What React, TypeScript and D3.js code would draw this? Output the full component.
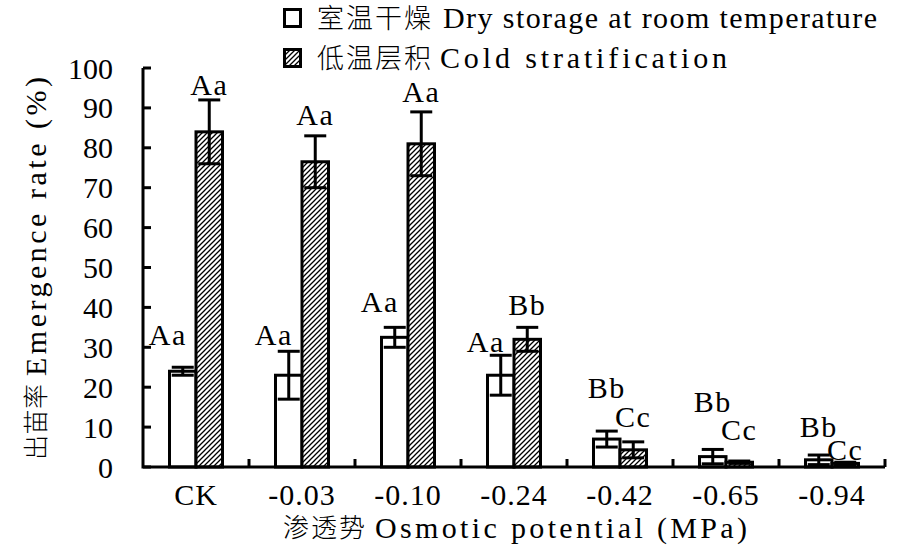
import React from "react";
import * as d3 from "d3";

const categories = ["CK", "-0.03", "-0.10", "-0.24", "-0.42", "-0.65", "-0.94"];
const dryValues = [24, 23, 32.5, 23, 7, 2.6, 1.8];
const dryErrors = [1, 6, 2.5, 5, 2, 1.8, 1.2];
const coldValues = [84, 76.5, 81, 32, 4.3, 1.2, 0.9];
const coldErrors = [8, 6.5, 8, 3, 2, 0.3, 0.3];
const dryLetters = ["Aa", "Aa", "Aa", "Aa", "Bb", "Bb", "Bb"];
const coldLetters = ["Aa", "Aa", "Aa", "Bb", "Cc", "Cc", "Cc"];
// label anchor heights (data units, baseline of the significance letters)
const dryLabelAt = [30.5, 30.5, 38.8, 28.8, 17.3, 13.8, 7.5];
const coldLabelAt = [93.3, 85.8, 91.5, 38, 10, 6.8, 1.8];
const yTicks = [0, 10, 20, 30, 40, 50, 60, 70, 80, 90, 100];
const seriesKeys = ["dry", "cold"];

const FONT = "'Liberation Serif', 'Times New Roman', Times, Tinos, 'Noto Serif', 'DejaVu Serif', serif";
const CJK = "'Noto Sans CJK SC', 'Noto Sans CJK JP', sans-serif";

export default function App() {
  const W = 900, H = 550;
  const left = 143, right = 885, top = 68, bottom = 467;
  const x = d3.scaleBand<string>().domain(categories).range([left, right]).padding(0);
  const bw = x.bandwidth();
  const xi = d3.scaleBand<string>().domain(seriesKeys).range([bw * 0.25, bw * 0.75]).padding(0);
  const y = d3.scaleLinear().domain([0, 100]).range([bottom, top]);
  const barW = xi.bandwidth();
  const cap = 22;
  const sw = 3;

  const bars: any[] = [];
  categories.forEach((c, i) => {
    [
      { k: "dry", v: dryValues[i], e: dryErrors[i], lab: dryLetters[i], la: dryLabelAt[i] },
      { k: "cold", v: coldValues[i], e: coldErrors[i], lab: coldLetters[i], la: coldLabelAt[i] },
    ].forEach((s) => {
      const bx = (x(c) as number) + (xi(s.k) as number);
      bars.push({ ...s, c, i, bx });
    });
  });

  const T = { fontFamily: FONT } as React.CSSProperties;
  const C = { fontFamily: CJK, fontWeight: 300 } as React.CSSProperties;

  return (
    <svg width={W} height={H} style={{ position: "absolute", left: 0, top: 0, background: "#fff" }}>
      <defs>
        <pattern id="hatch" patternUnits="userSpaceOnUse" width="5" height="5">
          <rect width="5" height="5" fill="#fff" />
          <path d="M-1,1 L1,-1 M0,5 L5,0 M4,6 L6,4" stroke="#000" strokeWidth="1.3" />
        </pattern>
      </defs>

      {bars.map((b, j) => {
        const yt = y(b.v);
        return (
          <rect key={"b" + j} x={b.bx} y={yt} width={barW} height={bottom - yt}
            fill={b.k === "dry" ? "#fff" : "url(#hatch)"} stroke="#000" strokeWidth={sw} />
        );
      })}
      {bars.map((b, j) => {
        const cx = b.bx + barW / 2;
        const y1 = y(b.v + b.e), y2 = y(Math.max(0, b.v - b.e));
        return (
          <g key={"e" + j} stroke="#000" strokeWidth={sw}>
            <line x1={cx} x2={cx} y1={y1} y2={y2} />
            <line x1={cx - cap / 2} x2={cx + cap / 2} y1={y1} y2={y1} />
            <line x1={cx - cap / 2} x2={cx + cap / 2} y1={y2} y2={y2} />
          </g>
        );
      })}
      {bars.map((b, j) => {
        const cx = b.bx + barW / 2;
        const shift = b.k === "dry" && coldValues[b.i] > b.la ? -15 : 0;
        return (
          <text key={"l" + j} style={T} x={cx + shift} y={y(b.la)} textAnchor="middle" fontSize={30} letterSpacing={1.5}>
            {b.lab}
          </text>
        );
      })}

      <g stroke="#000" strokeWidth={sw} fill="none">
        <path d={`M${left},${top} L${left},${bottom} L${right},${bottom}`} />
        {yTicks.map((t) => (
          <line key={"yt" + t} x1={left} x2={left + 8} y1={y(t)} y2={y(t)} />
        ))}
        {categories.map((c) => (
          <line key={"xt" + c} x1={(x(c) as number) + bw} x2={(x(c) as number) + bw} y1={bottom} y2={bottom - 8} />
        ))}
      </g>
      {yTicks.map((t) => (
        <text key={"yl" + t} style={T} x={113} y={y(t)} dy="0.35em" textAnchor="end" fontSize={30}>
          {t}
        </text>
      ))}
      {categories.map((c) => (
        <text key={"xl" + c} style={T} x={(x(c) as number) + bw / 2} y={505} textAnchor="middle" fontSize={30} letterSpacing={1}>
          {c}
        </text>
      ))}

      <text style={C} x={283} y={537} fontSize={26} textLength={82} lengthAdjust="spacing">渗透势</text>
      <text style={T} x={375} y={538} fontSize={30} textLength={372} lengthAdjust="spacing">Osmotic potential (MPa)</text>
      <g transform="translate(46,460) rotate(-90)">
        <text style={C} x={0} y={-1} fontSize={25} textLength={76} lengthAdjust="spacing">出苗率</text>
        <text style={T} x={84} y={0} fontSize={30} textLength={299} lengthAdjust="spacing">Emergence rate (%)</text>
      </g>

      <rect x={284.5} y={9.5} width={16} height={17} fill="#fff" stroke="#000" strokeWidth={sw} />
      <rect x={284.5} y={49.5} width={16} height={17} fill="url(#hatch)" stroke="#000" strokeWidth={sw} />
      <text style={C} x={317} y={28} fontSize={27} textLength={114} lengthAdjust="spacing">室温干燥</text>
      <text style={T} x={443} y={28} fontSize={30} textLength={434} lengthAdjust="spacing">Dry storage at room temperature</text>
      <text style={C} x={317} y={68} fontSize={27} textLength={114} lengthAdjust="spacing">低温层积</text>
      <text style={T} x={440} y={68} fontSize={30} textLength={287} lengthAdjust="spacing">Cold stratification</text>
    </svg>
  );
}
